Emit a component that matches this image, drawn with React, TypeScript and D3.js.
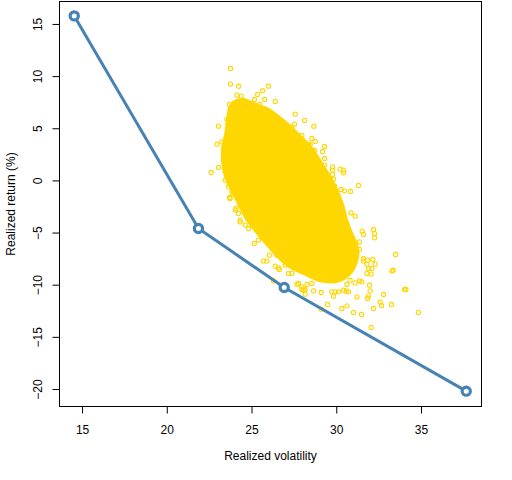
import React, { useRef, useEffect } from 'react'
import * as d3 from 'd3'

// efficient frontier (4 corner portfolios)
const frontierVol = [14.51, 21.84, 26.9, 37.64]
const frontierRet = [15.82, -4.56, -10.22, -20.16]

// outline of the dense part of the random-portfolio cloud
const coreVol = [23.71, 24.4, 25.19, 25.97, 26.76, 27.45, 28.14, 28.73, 29.22, 29.71, 30.1, 30.4, 30.6, 30.89, 31.28, 31.23, 30.91, 30.1, 29.12, 28.14, 27.15, 26.37, 25.78, 25.19, 24.6, 24.2, 23.81, 23.42, 23.22, 23.22, 23.42, 23.52]
const coreRet = [7.26, 7.9, 7.43, 6.95, 5.99, 5.03, 3.91, 2.78, 1.51, 0.23, -1.05, -2.33, -3.6, -4.89, -6.48, -7.6, -8.75, -9.68, -9.68, -9.04, -8.24, -7.12, -6.0, -4.89, -3.6, -2.33, -1.05, 0.23, 1.83, 3.11, 4.7, 5.99]

// random portfolios outside the dense part
const outVol = [23.73, 23.73, 24.2, 25.97, 25.62, 25.33, 24.11, 24.36, 25.15, 25.74, 26.37, 23.97, 23.67, 24.36, 25.44, 27.55, 28.1, 23.02, 23.52, 23.71, 26.72, 28.65, 27.94, 27.35, 27.51, 22.93, 23.22, 28.53, 28.04, 28.33, 28.57, 23.02, 23.38, 22.59, 23.42, 23.61, 23.81, 23.32, 28.73, 28.43, 29.28, 28.69, 29.16, 29.28, 29.28, 29.75, 29.75, 29.75, 29.81, 30.2, 30.4, 30.4, 29.87, 31.28, 30.26, 30.46, 30.81, 30.84, 31.09, 31.5, 31.58, 32.17, 32.23, 32.23, 31.34, 31.34, 33.47, 32.13, 32.27, 32.07, 31.58, 31.78, 33.25, 33.33, 32.03, 31.78, 31.34, 31.48, 31.93, 31.97, 34.0, 34.08, 31.09, 30.79, 30.6, 31.87, 31.82, 32.76, 32.56, 32.64, 33.23, 32.17, 31.19, 30.56, 30.4, 30.1, 29.81, 29.71, 30.6, 30.3, 30.99, 31.46, 29.46, 34.82, 32.03, 29.08, 28.63, 28.24, 28.04, 28.14, 23.67, 23.87, 24.05, 24.2, 24.3, 24.6, 24.79, 25.13, 25.38, 25.68, 25.88, 26.02, 26.47, 26.37, 26.61, 26.27, 27.35, 26.96, 27.65, 27.74, 27.94, 28.14, 28.43, 28.63, 28.53, 29.08, 23.71, 24.01, 24.3, 26.56, 31.58, 31.82, 31.87, 30.69, 29.91, 27.15, 27.35, 27.94]
const outRet = [10.78, 9.28, 9.08, 9.08, 8.65, 8.29, 8.22, 8.13, 7.81, 7.81, 7.62, 7.48, 7.33, 7.48, 7.33, 6.4, 5.8, 5.25, 5.89, 5.66, 5.76, 5.25, 4.36, 5.18, 5.44, 3.52, 3.74, 4.07, 3.65, 3.52, 2.95, 1.29, 1.29, 0.81, 0.07, -0.57, -1.05, 2.31, 3.78, 3.49, 3.3, 2.92, 2.82, 2.15, 1.51, 1.35, 1.03, 0.62, 0.17, 1.13, 1.03, 0.77, -0.5, -0.44, -0.82, -0.95, -1.01, -3.06, -3.38, -4.82, -5.13, -4.66, -5.04, -5.46, -5.84, -6.57, -7.05, -7.53, -7.98, -8.39, -7.69, -7.98, -8.65, -8.56, -8.94, -8.87, -9.58, -9.68, -10.0, -10.54, -10.41, -10.41, -9.78, -9.52, -9.93, -11.05, -11.27, -10.89, -11.63, -11.94, -11.85, -12.23, -11.12, -10.57, -10.48, -10.64, -11.05, -10.64, -11.98, -12.23, -12.61, -12.81, -11.85, -12.61, -14.05, -10.7, -10.54, -9.93, -10.48, -10.86, -1.59, -1.27, -2.64, -3.12, -3.76, -4.24, -4.56, -6.0, -5.68, -7.69, -7.69, -7.12, -7.12, -8.17, -8.49, -9.58, -7.76, -8.08, -9.9, -9.83, -10.41, -10.41, -9.04, -8.87, -9.83, -12.3, -1.68, -2.8, -3.93, -8.34, -7.44, -7.6, -8.39, -10.64, -10.64, -8.87, -8.87, -10.16]

const xTicks = [15, 20, 25, 30, 35]
const yTicks = [-20, -15, -10, -5, 0, 5, 10, 15]

const gold = '#FFD700'
const blue = '#4682B4'
const font = '"Liberation Sans", Arial, sans-serif'

const left = 59.5, right = 481.5, top = 1.5, bottom = 406.5

function App() {
    const svgRef = useRef<SVGSVGElement>(null)

    useEffect(() => {
        const svg = d3.select(svgRef.current)
        svg.selectAll('*').remove()

        const x = d3.scaleLinear().domain([13.64, 38.54]).range([left, right])
        const y = d3.scaleLinear().domain([-21.63, 17.2]).range([bottom, top])

        const core = coreVol.map((v, i) => [v, coreRet[i]] as [number, number])
        svg.append('path')
            .datum(core)
            .attr('d', d3.line<[number, number]>().x(d => x(d[0])).y(d => y(d[1])).curve(d3.curveCatmullRomClosed))
            .attr('fill', gold)
            .attr('stroke', gold)
            .attr('stroke-width', 1.5)

        const pts = outVol.map((v, i) => [v, outRet[i]])
        svg.selectAll('.sim').data(pts).join('circle').attr('class', 'sim')
            .attr('cx', d => x(d[0]))
            .attr('cy', d => y(d[1]))
            .attr('r', 2.1)
            .attr('fill', 'none')
            .attr('stroke', gold)
            .attr('stroke-width', 1.1)

        const front = frontierVol.map((v, i) => [v, frontierRet[i]] as [number, number])
        svg.append('path')
            .datum(front)
            .attr('d', d3.line<[number, number]>().x(d => x(d[0])).y(d => y(d[1])))
            .attr('fill', 'none')
            .attr('stroke', blue)
            .attr('stroke-width', 3)
        svg.selectAll('.corner').data(front).join('circle').attr('class', 'corner')
            .attr('cx', d => x(d[0]))
            .attr('cy', d => y(d[1]))
            .attr('r', 4.1)
            .attr('fill', 'white')
            .attr('stroke', blue)
            .attr('stroke-width', 3.2)

        svg.append('rect')
            .attr('x', left).attr('y', top)
            .attr('width', right - left).attr('height', bottom - top)
            .attr('fill', 'none').attr('stroke', 'black').attr('stroke-width', 1)

        const gx = svg.append('g')
            .attr('transform', `translate(0,${bottom})`)
            .call(d3.axisBottom(x).tickValues(xTicks).tickSize(7).tickSizeOuter(0).offset(0))
        gx.select('.domain').remove()
        gx.attr('font-family', font).attr('font-size', 12)
        gx.selectAll('text').attr('y', 27).attr('dy', null).attr('fill', 'black')

        const gy = svg.append('g')
            .attr('transform', `translate(${left},0)`)
            .call(d3.axisLeft(y).tickValues(yTicks).tickSize(7).tickSizeOuter(0).offset(0))
        gy.select('.domain').remove()
        gy.attr('font-family', font).attr('font-size', 12)
        gy.selectAll('text')
            .attr('x', null).attr('dy', null)
            .attr('text-anchor', 'middle')
            .attr('transform', 'translate(-17.5,0) rotate(-90)')
            .attr('fill', 'black')

        svg.append('text')
            .attr('x', (left + right) / 2).attr('y', 460)
            .attr('text-anchor', 'middle')
            .attr('font-family', font).attr('font-size', 12)
            .text('Realized volatility')
        svg.append('text')
            .attr('transform', `translate(15,${(top + bottom) / 2}) rotate(-90)`)
            .attr('text-anchor', 'middle')
            .attr('font-family', font).attr('font-size', 12)
            .text('Realized return (%)')
    }, [])

    return <svg ref={svgRef} width={512} height={480} style={{ position: 'absolute', left: 0, top: 0, background: 'white' }}></svg>
}

export default App
